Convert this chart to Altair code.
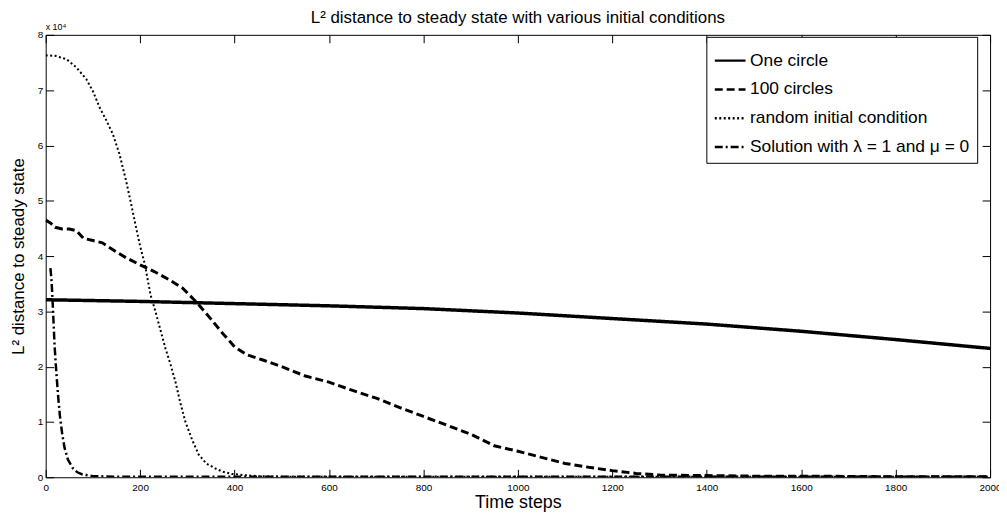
import altair as alt
import pandas as pd

# ---------------- data (distance in units of 10^4) ----------------
SERIES = ["One circle", "100 circles", "random initial condition",
          "Solution with λ = 1 and μ = 0"]

one_circle_steps = [0, 200, 400, 600, 800, 1000, 1200, 1400, 1600, 1800, 2000]
one_circle_dist = [3.21, 3.18, 3.14, 3.10, 3.05, 2.97, 2.87, 2.77, 2.64, 2.49, 2.33]

hundred_steps = [0, 10, 20, 35, 50, 65, 80, 100, 120, 145, 170, 200, 230, 260, 290,
                 320, 350, 375, 400, 425, 460, 500, 550, 600, 650, 700, 750, 800,
                 850, 900, 950, 1000, 1050, 1100, 1150, 1200, 1250, 1300, 1400,
                 1500, 1600, 1800, 2000]
hundred_dist = [4.65, 4.60, 4.52, 4.49, 4.49, 4.46, 4.32, 4.28, 4.24, 4.10, 3.97,
                3.84, 3.72, 3.58, 3.42, 3.16, 2.86, 2.60, 2.36, 2.22, 2.12, 2.00,
                1.83, 1.72, 1.57, 1.43, 1.26, 1.10, 0.94, 0.78, 0.57, 0.47, 0.36,
                0.25, 0.18, 0.12, 0.07, 0.04, 0.03, 0.02, 0.02, 0.01, 0.01]

random_steps = [0, 20, 44, 65, 86, 100, 114, 128, 142, 156, 170, 180, 191, 200, 210,
                222, 233, 245, 254, 265, 275, 285, 296, 310, 324, 340, 359, 375,
                394, 420, 450, 500, 600, 800, 1000, 1500, 2000]
random_dist = [7.63, 7.62, 7.56, 7.41, 7.20, 6.98, 6.69, 6.46, 6.21, 5.85, 5.37,
               4.98, 4.53, 4.18, 3.85, 3.30, 2.98, 2.60, 2.32, 2.02, 1.72, 1.35,
               1.00, 0.68, 0.41, 0.25, 0.16, 0.10, 0.06, 0.04, 0.02, 0.01, 0.01,
               0.01, 0.01, 0.01, 0.01]

lambda_steps = [10, 12, 14, 16, 19, 23, 27, 30, 35, 40, 47, 57, 67, 78, 100, 150,
                300, 600, 1000, 1500, 2000]
lambda_dist = [3.78, 3.60, 3.30, 2.92, 2.35, 1.84, 1.40, 1.12, 0.78, 0.53, 0.32,
               0.17, 0.09, 0.05, 0.02, 0.01, 0.01, 0.01, 0.01, 0.01, 0.01]

x_tick_values = [0, 200, 400, 600, 800, 1000, 1200, 1400, 1600, 1800, 2000]
y_tick_values = [0, 1, 2, 3, 4, 5, 6, 7, 8]
MULTIPLIER_LABEL = ["x 10⁴"]

TITLE = "L² distance to steady state with various initial conditions"
X_TITLE = "Time steps"
Y_TITLE = "L² distance to steady state"

# ---------------- styles ----------------
DASHES = [[1, 0], [8, 4], [2, 2.5], [8, 3, 2, 3]]
WIDTHS = [3.5, 3, 2, 2.5]
FONT = "Liberation Sans"
W, H = 952, 446

rows = []
for name, xs_, ys_ in zip(SERIES,
                          [one_circle_steps, hundred_steps, random_steps, lambda_steps],
                          [one_circle_dist, hundred_dist, random_dist, lambda_dist]):
    for i, (a, b) in enumerate(zip(xs_, ys_)):
        rows.append({"series": name, "step": a, "dist": b, "idx": i})
df = pd.DataFrame(rows)

x_scale = alt.Scale(domain=[0, 2000], nice=False, zero=False)
y_scale = alt.Scale(domain=[0, 8], nice=False, zero=False)
dash_scale = alt.Scale(domain=SERIES, range=DASHES)

legend = alt.Legend(
    title=None, orient="none", legendX=666, legendY=2,
    strokeColor="black", fillColor="white", padding=7, cornerRadius=0,
    labelFont=FONT, labelFontSize=17.5, labelColor="black", labelOffset=3,
    symbolType="stroke", symbolSize=961, symbolStrokeWidth=2.5,
    symbolStrokeColor="black", rowPadding=3, labelLimit=400,
)

main_x_axis = alt.Axis(
    orient="bottom", values=x_tick_values, ticks=False, domain=False, grid=False,
    format="d",
    labelFont=FONT, labelFontSize=10, labelPadding=5, labelColor="black",
    labelFlush=False, labelOverlap=False,
    title=X_TITLE, titleFont=FONT, titleFontSize=18, titleFontWeight="normal",
    titleColor="black", titlePadding=1,
)
main_y_axis = alt.Axis(
    orient="left", values=y_tick_values, ticks=False, domain=False, grid=False,
    format="d",
    labelFont=FONT, labelFontSize=10, labelPadding=3, labelColor="black",
    labelFlush=False, labelOverlap=False,
    title=Y_TITLE, titleFont=FONT, titleFontSize=17, titleFontWeight="normal",
    titleColor="black", titlePadding=10,
)

base = alt.Chart(df)

line_layers = []
for i, (name, w) in enumerate(zip(SERIES, WIDTHS)):
    line_layers.append(
        base.transform_filter(alt.datum.series == name)
        .mark_line(color="black", strokeWidth=w, strokeCap="butt", clip=True)
        .encode(
            x=alt.X("step:Q", scale=x_scale, axis=main_x_axis if i == 0 else None),
            y=alt.Y("dist:Q", scale=y_scale, axis=main_y_axis if i == 0 else None),
            strokeDash=alt.StrokeDash("series:N", scale=dash_scale, legend=legend),
            order=alt.Order("idx:Q"),
        )
    )

tick_common = dict(labels=False, domain=False, grid=False, ticks=True, tickSize=8,
                   tickColor="black", tickWidth=1, title=None, offset=-8)

inner_bl = base.mark_point(opacity=0).encode(
    x=alt.X("step:Q", scale=x_scale,
            axis=alt.Axis(orient="bottom", values=x_tick_values, **tick_common)),
    y=alt.Y("dist:Q", scale=y_scale,
            axis=alt.Axis(orient="left", values=y_tick_values, **tick_common)),
)
inner_tr = base.mark_point(opacity=0).encode(
    x=alt.X("step:Q", scale=x_scale,
            axis=alt.Axis(orient="top", values=x_tick_values, **tick_common)),
    y=alt.Y("dist:Q", scale=y_scale,
            axis=alt.Axis(orient="right", values=y_tick_values, **tick_common)),
)

mult = alt.Chart(pd.DataFrame({"t": MULTIPLIER_LABEL})).mark_text(
    align="left", baseline="bottom", fontSize=9, font=FONT, color="black", dy=-3
).encode(
    x=alt.XDatum(0, axis=None),
    y=alt.YDatum(8, axis=None),
    text="t:N",
)

chart = (
    alt.layer(*line_layers, inner_bl, inner_tr, mult)
    .resolve_axis(x="independent", y="independent")
    .properties(
        width=W, height=H,
        title=alt.TitleParams(TITLE, font=FONT, fontSize=17, fontWeight="normal",
                              color="black", anchor="middle", offset=-4),
        padding={"left": 38, "top": 25, "right": 9, "bottom": 38},
        autosize=alt.AutoSizeParams(type="none"),
        background="white",
    )
    .configure_view(stroke="black", strokeWidth=1)
)

chart.save("out.html", embed_options={"renderer": "svg", "actions": False})
